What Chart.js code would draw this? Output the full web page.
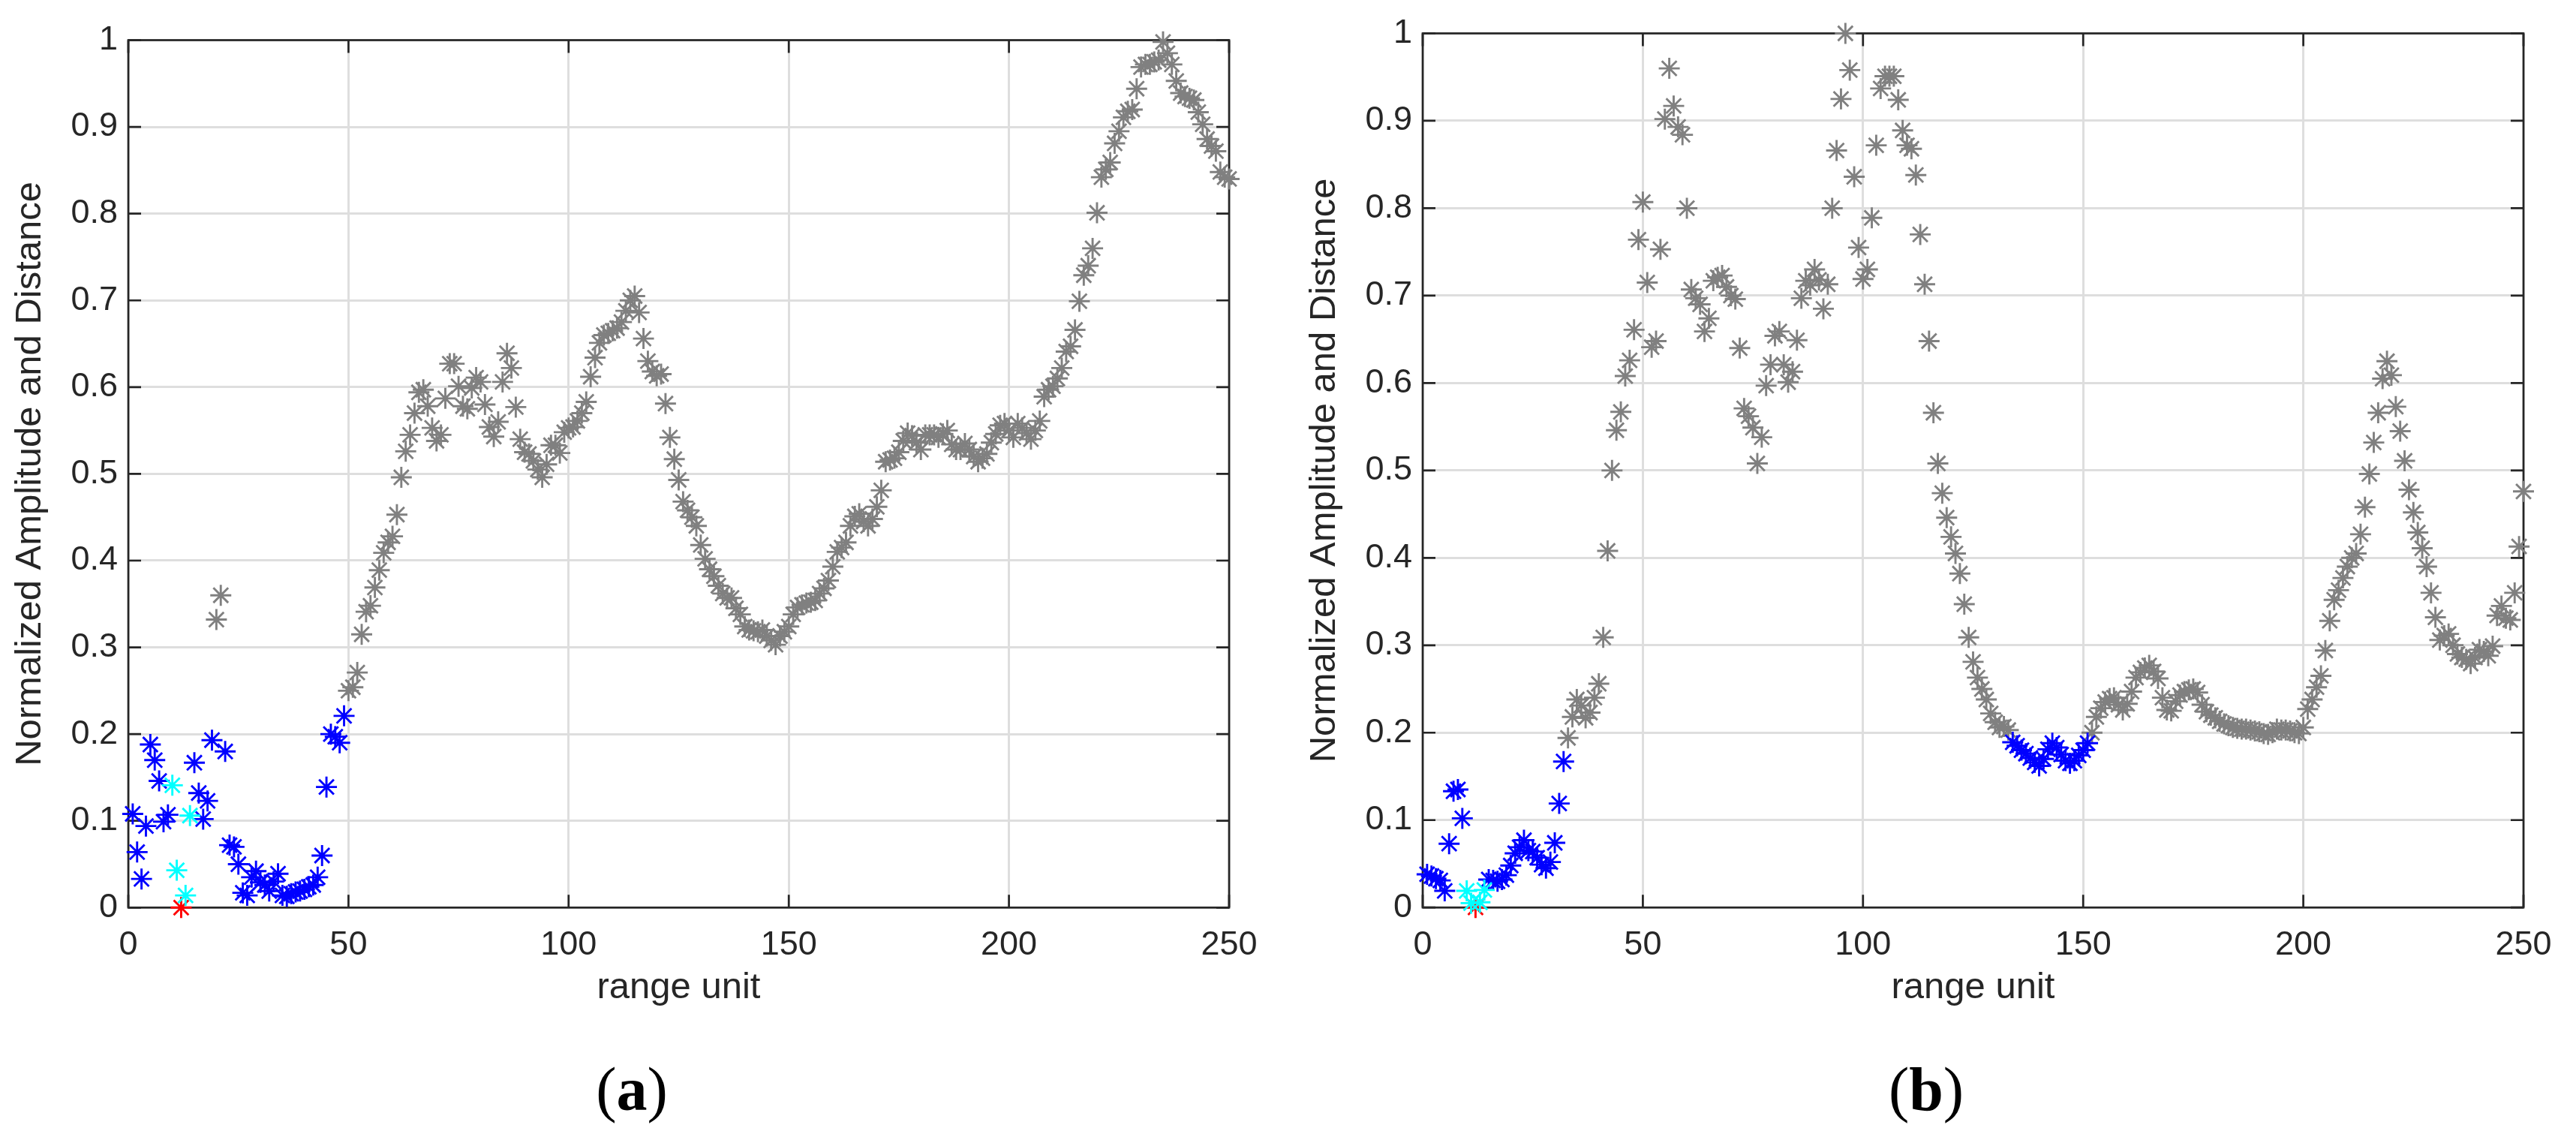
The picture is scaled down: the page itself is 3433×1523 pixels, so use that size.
<!DOCTYPE html>
<html>
<head>
<meta charset="utf-8">
<script src="https://cdn.jsdelivr.net/npm/chart.js@4.4.1/dist/chart.umd.min.js"></script>
<style>
  html, body { margin: 0; padding: 0; background: #fff; }
  body { width: 3433px; height: 1523px; position: relative; overflow: hidden; }
  canvas { position: absolute; top: 0; }
  #chartA { left: 0; }
  #chartB { left: 1725px; }
  .tag {
    position: absolute; top: 1411px;
    font-family: 'Liberation Serif', 'Times New Roman', serif;
    font-size: 82px; line-height: 82px; color: #000;
    transform: translateX(-50%); white-space: nowrap;
  }
</style>
</head>
<body>
<canvas id="chartA" width="1716" height="1400"></canvas>
<canvas id="chartB" width="1708" height="1400"></canvas>
<div class="tag" style="left:842px">(<b>a</b>)</div>
<div class="tag" style="left:2567px">(<b>b</b>)</div>
<script>
// axis ticks
const xTickValues = [0, 50, 100, 150, 200, 250];
const xTickLabels = ['0', '50', '100', '150', '200', '250'];
const yTickValues = [0, 0.1, 0.2, 0.3, 0.4, 0.5, 0.6, 0.7, 0.8, 0.9, 1];
const yTickLabels = ['0', '0.1', '0.2', '0.3', '0.4', '0.5', '0.6', '0.7', '0.8', '0.9', '1'];

// ---- panel (a) ----
const aBlueX = [1, 2, 3, 4, 5, 6, 7, 8, 9, 15, 16, 17, 18, 19,
  22, 23, 24, 25, 26, 27, 28, 29, 30, 31, 32, 33, 34, 35, 36, 37, 38, 39, 40, 41, 42, 43, 44, 45, 46, 47, 48, 49];
const aBlueY = [0.108, 0.064, 0.033, 0.094, 0.188, 0.170, 0.146, 0.099, 0.107, 0.167, 0.132, 0.102, 0.123, 0.193,
  0.180, 0.072, 0.070, 0.050, 0.017, 0.014, 0.035, 0.042, 0.029, 0.026,
  0.019, 0.030, 0.039, 0.014, 0.013, 0.016, 0.018, 0.019, 0.021, 0.024,
  0.026, 0.035, 0.060, 0.139, 0.200, 0.197, 0.190, 0.221];
const aCyanX = [10, 11, 13, 14];
const aCyanY = [0.141, 0.043, 0.014, 0.106];
const aRedX = [12];
const aRedY = [0];
const aGrayEarlyX = [20, 21];
const aGrayEarlyY = [0.332, 0.360];
const aGrayStart = 50; // range units 50..250
const aGray = [
  0.250, 0.254, 0.271, 0.315, 0.341, 0.348, 0.369, 0.389, 0.409, 0.421,
  0.428, 0.453, 0.496, 0.526, 0.545, 0.570, 0.594, 0.597, 0.578, 0.553,
  0.538, 0.545, 0.587, 0.627, 0.627, 0.601, 0.578, 0.575, 0.599, 0.611,
  0.606, 0.580, 0.554, 0.543, 0.560, 0.606, 0.639, 0.622, 0.577, 0.540,
  0.525, 0.523, 0.515, 0.505, 0.496, 0.511, 0.533, 0.533, 0.524, 0.548,
  0.553, 0.554, 0.561, 0.570, 0.583, 0.612, 0.634, 0.651, 0.660, 0.662,
  0.665, 0.668, 0.675, 0.688, 0.700, 0.705, 0.686, 0.656, 0.630, 0.618,
  0.613, 0.615, 0.581, 0.542, 0.517, 0.493, 0.468, 0.458, 0.450, 0.440,
  0.418, 0.402, 0.390, 0.382, 0.371, 0.362, 0.357, 0.357, 0.345, 0.338,
  0.324, 0.320, 0.319, 0.318, 0.320, 0.313, 0.308, 0.303, 0.313, 0.318,
  0.324, 0.338, 0.346, 0.349, 0.351, 0.352, 0.354, 0.362, 0.368, 0.377,
  0.393, 0.410, 0.415, 0.421, 0.440, 0.451, 0.454, 0.445, 0.440, 0.448,
  0.462, 0.481, 0.514, 0.516, 0.518, 0.525, 0.538, 0.547, 0.544, 0.536,
  0.528, 0.545, 0.545, 0.545, 0.542, 0.546, 0.550, 0.534, 0.528, 0.528,
  0.535, 0.528, 0.520, 0.514, 0.518, 0.523, 0.536, 0.546, 0.556, 0.558,
  0.550, 0.542, 0.558, 0.553, 0.547, 0.540, 0.550, 0.561, 0.589, 0.597,
  0.601, 0.610, 0.622, 0.641, 0.647, 0.666, 0.699, 0.729, 0.740, 0.760,
  0.801, 0.842, 0.851, 0.859, 0.881, 0.895, 0.911, 0.918, 0.920, 0.944,
  0.969, 0.972, 0.972, 0.975, 0.977, 0.998, 0.985, 0.972, 0.953, 0.939,
  0.935, 0.933, 0.931, 0.917, 0.903, 0.886, 0.878, 0.872, 0.848, 0.842,
  0.840
];

// ---- panel (b) ----
const bBlueX = [1, 2, 3, 4, 5, 6, 7, 8, 9,
  15, 16, 17, 18, 19, 20, 21, 22, 23, 24, 25, 26, 27, 28, 29, 30, 31, 32,
  134, 135, 136, 137, 138, 139, 140, 141, 142, 143, 144, 145, 146, 147, 148, 149, 150, 151];
const bBlueY = [0.038, 0.036, 0.033, 0.031, 0.019, 0.073, 0.133, 0.135, 0.102,
  0.032, 0.031, 0.030, 0.032, 0.037, 0.048, 0.062, 0.069, 0.077, 0.065, 0.064, 0.057, 0.049, 0.045, 0.052, 0.074, 0.119, 0.167,
  0.189, 0.185, 0.180, 0.176, 0.171, 0.166, 0.162, 0.170, 0.181, 0.188, 0.183, 0.175, 0.168, 0.165, 0.168, 0.174, 0.180, 0.188];
const bCyanX = [10, 11, 13, 14];
const bCyanY = [0.019, 0.005, 0.006, 0.020];
const bRedX = [12];
const bRedY = [0];
const bGray1Start = 33; // range units 33..133
const bGray1 = [
  0.194, 0.218, 0.238, 0.231, 0.217, 0.223, 0.240,
  0.256, 0.309, 0.408, 0.500, 0.546, 0.567, 0.608, 0.626, 0.661, 0.764,
  0.807, 0.715, 0.641, 0.648, 0.753, 0.902, 0.960, 0.917, 0.893, 0.884,
  0.800, 0.707, 0.697, 0.690, 0.659, 0.674, 0.717, 0.721, 0.723, 0.710,
  0.700, 0.696, 0.640, 0.571, 0.562, 0.549, 0.508, 0.538, 0.597, 0.621,
  0.654, 0.659, 0.621, 0.601, 0.613, 0.649, 0.697, 0.717, 0.712, 0.730,
  0.718, 0.685, 0.713, 0.800, 0.866, 0.925, 1.000, 0.958, 0.836, 0.755,
  0.719, 0.730, 0.789, 0.872, 0.937, 0.951, 0.951, 0.951, 0.924, 0.889,
  0.872, 0.868, 0.838, 0.770, 0.713, 0.648, 0.566, 0.508, 0.474, 0.446,
  0.424, 0.405, 0.382, 0.347, 0.309, 0.281, 0.263, 0.250, 0.238, 0.222,
  0.212, 0.206, 0.207, 0.203
];
const bGray2Start = 152; // range units 152..250
const bGray2 = [
  0.200, 0.218, 0.228, 0.235, 0.239, 0.240, 0.232, 0.226,
  0.233, 0.247, 0.263, 0.269, 0.274, 0.277, 0.270, 0.262, 0.240, 0.226,
  0.225, 0.236, 0.243, 0.247, 0.249, 0.250, 0.246, 0.232, 0.224, 0.220,
  0.217, 0.213, 0.210, 0.208, 0.206, 0.205, 0.204, 0.204, 0.203, 0.202,
  0.201, 0.199, 0.198, 0.200, 0.204, 0.203, 0.203, 0.202, 0.200, 0.199,
  0.206, 0.227, 0.238, 0.252, 0.265, 0.294, 0.328, 0.352, 0.363, 0.377,
  0.390, 0.400, 0.405, 0.427, 0.458, 0.496, 0.532, 0.566, 0.605, 0.625,
  0.609, 0.573, 0.545, 0.511, 0.478, 0.452, 0.429, 0.411, 0.390, 0.360,
  0.332, 0.306, 0.311, 0.313, 0.300, 0.290, 0.286, 0.284, 0.279, 0.286,
  0.295, 0.293, 0.288, 0.299, 0.334, 0.345, 0.331, 0.329, 0.360, 0.413,
  0.476
];

const GRAY = '#808080', BLUE = '#0000ff', CYAN = '#00ffff', RED = '#ff0000';
const AXIS = '#262626';
const FONT = "'Liberation Sans', Arial, Helvetica, sans-serif";
const CANVAS_H = 1400;

function pairs(xs, ys) { return xs.map((x, i) => ({x: x, y: ys[i]})); }
function run(start, ys) { return ys.map((y, i) => ({x: start + i, y: y})); }

function starSet(points, color) {
  return {
    data: points,
    pointStyle: 'star',
    pointRadius: 14,
    pointHoverRadius: 14,
    borderColor: color,
    backgroundColor: color,
    borderWidth: 2.9,
    pointBorderWidth: 2.9,
    showLine: false,
    clip: false
  };
}

// matlab style box with inward ticks, drawn above the grid and below the markers
const boxPlugin = {
  id: 'boxTicks',
  beforeDatasetsDraw(chart) {
    const {ctx, chartArea: a} = chart;
    const sx = chart.scales.x, sy = chart.scales.y;
    const len = 17;
    ctx.save();
    ctx.strokeStyle = AXIS;
    ctx.lineWidth = 2.7;
    ctx.beginPath();
    sx.ticks.forEach(t => {
      const px = sx.getPixelForValue(t.value);
      ctx.moveTo(px, a.bottom); ctx.lineTo(px, a.bottom - len);
      ctx.moveTo(px, a.top); ctx.lineTo(px, a.top + len);
    });
    sy.ticks.forEach(t => {
      const py = sy.getPixelForValue(t.value);
      ctx.moveTo(a.left, py); ctx.lineTo(a.left + len, py);
      ctx.moveTo(a.right, py); ctx.lineTo(a.right - len, py);
    });
    ctx.stroke();
    ctx.strokeRect(a.left, a.top, a.right - a.left, a.bottom - a.top);
    ctx.restore();
  }
};

function makeChart(canvas, datasets, plotTop, plotBottom, rightPad) {
  return new Chart(canvas, {
    type: 'scatter',
    data: { datasets: datasets },
    plugins: [boxPlugin],
    options: {
      responsive: false,
      maintainAspectRatio: false,
      devicePixelRatio: 1,
      animation: false,
      events: [],
      layout: { padding: { top: plotTop, right: rightPad, left: 0, bottom: 0 } },
      plugins: { legend: { display: false }, tooltip: { enabled: false }, title: { display: false } },
      scales: {
        x: {
          type: 'linear', min: 0, max: 250,
          afterBuildTicks: s => { s.ticks = xTickValues.map(v => ({value: v})); },
          afterFit: s => { s.height = CANVAS_H - plotBottom; },
          ticks: {
            callback: (v, i) => xTickLabels[i],
            font: { family: FONT, size: 45 }, color: AXIS,
            padding: 23, maxRotation: 0, autoSkip: false
          },
          grid: { color: '#dedede', lineWidth: 3, drawTicks: false },
          border: { display: false },
          title: {
            display: true, text: 'range unit', color: AXIS,
            font: { family: FONT, size: 49 }, padding: { top: 0, bottom: 54 }
          }
        },
        y: {
          type: 'linear', min: 0, max: 1,
          afterBuildTicks: s => { s.ticks = yTickValues.map(v => ({value: v})); },
          afterFit: s => { s.width = 171; },
          ticks: {
            callback: (v, i) => yTickLabels[i],
            font: { family: FONT, size: 45 }, color: AXIS,
            padding: 14, autoSkip: false
          },
          grid: { color: '#dedede', lineWidth: 3, drawTicks: false },
          border: { display: false },
          title: {
            display: true, text: 'Normalized Amplitude and Distance', color: AXIS,
            font: { family: FONT, size: 49 }, padding: { top: 11, bottom: 0 }
          }
        }
      }
    }
  });
}

makeChart(document.getElementById('chartA'), [
  starSet(pairs(aCyanX, aCyanY), CYAN),
  starSet(pairs(aRedX, aRedY), RED),
  starSet(pairs(aBlueX, aBlueY), BLUE),
  starSet(pairs(aGrayEarlyX, aGrayEarlyY).concat(run(aGrayStart, aGray)), GRAY)
], 53.5, 1209.3, 78);

makeChart(document.getElementById('chartB'), [
  starSet(pairs(bCyanX, bCyanY), CYAN),
  starSet(pairs(bRedX, bRedY), RED),
  starSet(pairs(bBlueX, bBlueY), BLUE),
  starSet(run(bGray1Start, bGray1).concat(run(bGray2Start, bGray2)), GRAY)
], 44.5, 1209.2, 70);
</script>
</body>
</html>
